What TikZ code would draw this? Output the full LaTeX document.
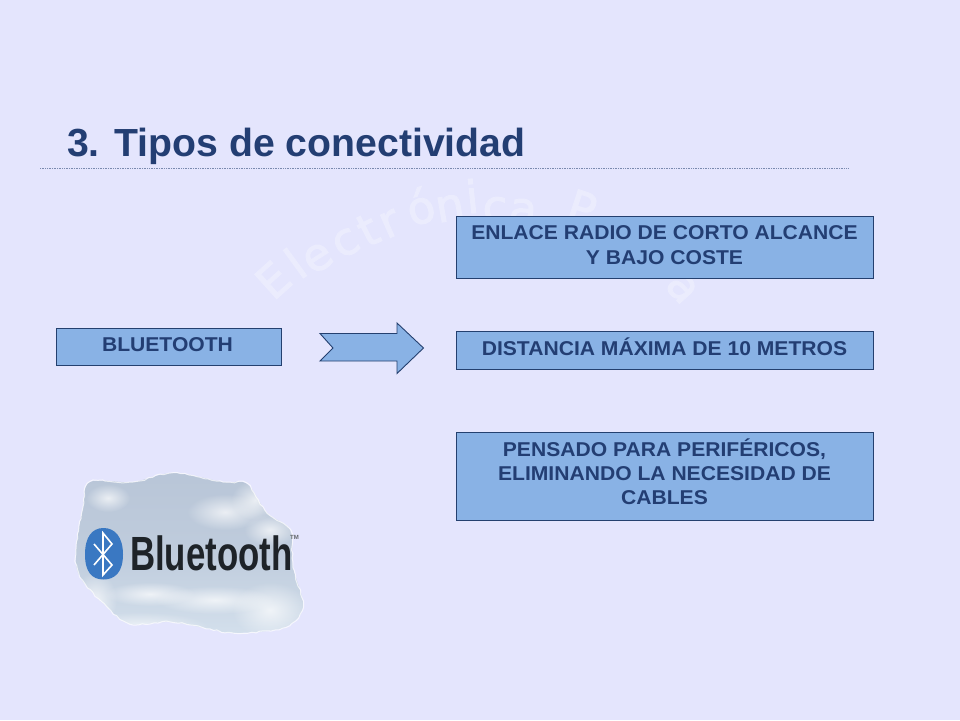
\documentclass[tikz,border=0pt]{standalone}
\usepackage{fontspec}
\setmainfont{Liberation Sans}
\newfontfamily\wmfont[FakeBold=2.2]{DejaVu Sans}
\usetikzlibrary{fadings,shadings,decorations.pathmorphing}
\definecolor{bgc}{HTML}{E4E5FD}
\definecolor{boxc}{HTML}{89B2E5}
\definecolor{edgec}{HTML}{24406F}
\definecolor{txtc}{HTML}{233E73}
\definecolor{wmk}{HTML}{EBECFD}
\definecolor{cloudA}{HTML}{B8C5D7}
\definecolor{cloudB}{HTML}{D6E2EE}
\definecolor{logob}{HTML}{3A78C2}
\definecolor{logok}{HTML}{1E2328}
\tikzfading[name=softpuff,inner color=transparent!0,outer color=transparent!100]
\tikzset{
  x=1pt,y=-1pt,
  infobox/.style={draw=edgec,line width=0.9pt,fill=boxc,anchor=north west,inner sep=0pt,outer sep=0pt},
  boxtext/.style={text=txtc,font=\fontsize{20}{24}\selectfont\bfseries,align=center,inner sep=0pt,xscale=1.055},
  puff/.style={fill=white,path fading=softpuff,opacity=0.7},
  wmtext/.style={text=wmk,font=\wmfont\fontsize{45}{45}\selectfont,anchor=center,inner sep=0pt},
}
\def\cloudpath{plot[smooth cycle,tension=0.55] coordinates {(90,482) (133,482) (173,473) (223,482) (247,484) (267,513) (290,530) (293,567) (303,607) (283,628) (233,633) (210,629) (170,622) (130,624) (107,607) (80,577) (76,550) (83,507)}}
\begin{document}
\begin{tikzpicture}
\useasboundingbox (0,0) rectangle (960,720);
\fill[bgc] (0,0) rectangle (960,720);
% watermark: letters set on an arc
\foreach \ch/\px/\py/\rot [count=\n] in {E/273/280/42,l/295/263/36,e/318/258/33,c/346/243/30,t/368/230/27,r/390/224/24,ó/420/206/18,n/450/208/10,i/472/196/6,c/495/210/0,a/523/212/-6,P/582/208/-18,a/682/288/-48}
  \node[wmtext,rotate=\rot] (wm\n) at (\px,\py) {\ch};
% title
\node[text=txtc,font=\fontsize{39.2}{42}\selectfont\bfseries,anchor=base west,inner sep=0pt] (title) at (67,156) {3. Tipos de conectividad};
\draw[densely dotted,color=edgec!55!bgc,line width=0.7pt] (40,168.5) -- (848,168.5);
% boxes
\node[infobox,minimum width=417pt,minimum height=62pt] (b1) at (456,216) {};
\node[boxtext,anchor=north] (t1) at (664.5,225) {ENLACE RADIO DE CORTO ALCANCE\\[1pt]Y BAJO COSTE};
\node[infobox,minimum width=417pt,minimum height=38pt] (b2) at (456,331) {};
\node[boxtext,anchor=base] (t2) at (664.5,355) {DISTANCIA MÁXIMA DE 10 METROS};
\node[infobox,minimum width=417pt,minimum height=88pt] (b3) at (456,432) {};
\node[boxtext,anchor=north] (t3) at (664.5,438.5) {PENSADO PARA PERIFÉRICOS,\\ELIMINANDO LA NECESIDAD DE\\CABLES};
\node[infobox,minimum width=225pt,minimum height=37pt] (b0) at (56,328) {};
\node[boxtext,anchor=base] (t0) at (167.5,351) {BLUETOOTH};
% block arrow
\draw[draw=edgec,line width=0.9pt,fill=boxc,line join=miter]
  (320,333.5) -- (397,333.5) -- (397,323) -- (423.5,348) -- (397,373.5) -- (397,361) -- (320,361) -- (333,348) -- cycle;
% logo cloud
\begin{scope}
\path[clip] \cloudpath;
\shade[top color=cloudA,bottom color=cloudB,middle color=cloudA!75!cloudB] (60,465) rectangle (320,645);
\fill[puff] (225,512) ellipse (38 and 18);
\fill[puff] (255,500) ellipse (24 and 20);
\fill[puff] (270,530) ellipse (26 and 16);
\fill[puff] (108,498) ellipse (22 and 14);
\fill[puff] (150,594) ellipse (45 and 12);
\fill[puff] (215,600) ellipse (60 and 14);
\fill[puff] (140,628) ellipse (70 and 16);
\fill[puff] (270,610) ellipse (38 and 28);
\fill[puff] (95,600) ellipse (22 and 28);
\end{scope}
\draw[white,line width=1pt,line join=round,opacity=0.7,decorate,decoration={random steps,segment length=4pt,amplitude=0.8pt}] \cloudpath;
% badge
\fill[logob] (103.5,528) .. controls (115,528) and (123,537) .. (123,554.5) .. controls (123,572) and (115,579.5) .. (103.5,579.5) .. controls (92,579.5) and (85,572) .. (85,554.5) .. controls (85,537) and (92,528) .. (103.5,528) -- cycle;
\draw[white,line width=1.6pt,line join=miter] (94,544) -- (112,565) -- (103,575) -- (103,533) -- (112,544) -- (94,565);
% logo text
\node[text=logok,font=\fontsize{48}{48}\selectfont\bfseries,anchor=base west,inner sep=0pt,xscale=0.725] (logo) at (130,570) {Bluetooth};
\node[text=logok!70,font=\fontsize{6}{6}\selectfont\bfseries,anchor=base west,inner sep=0pt] (tm) at (290,539) {TM};
\end{tikzpicture}
\end{document}
